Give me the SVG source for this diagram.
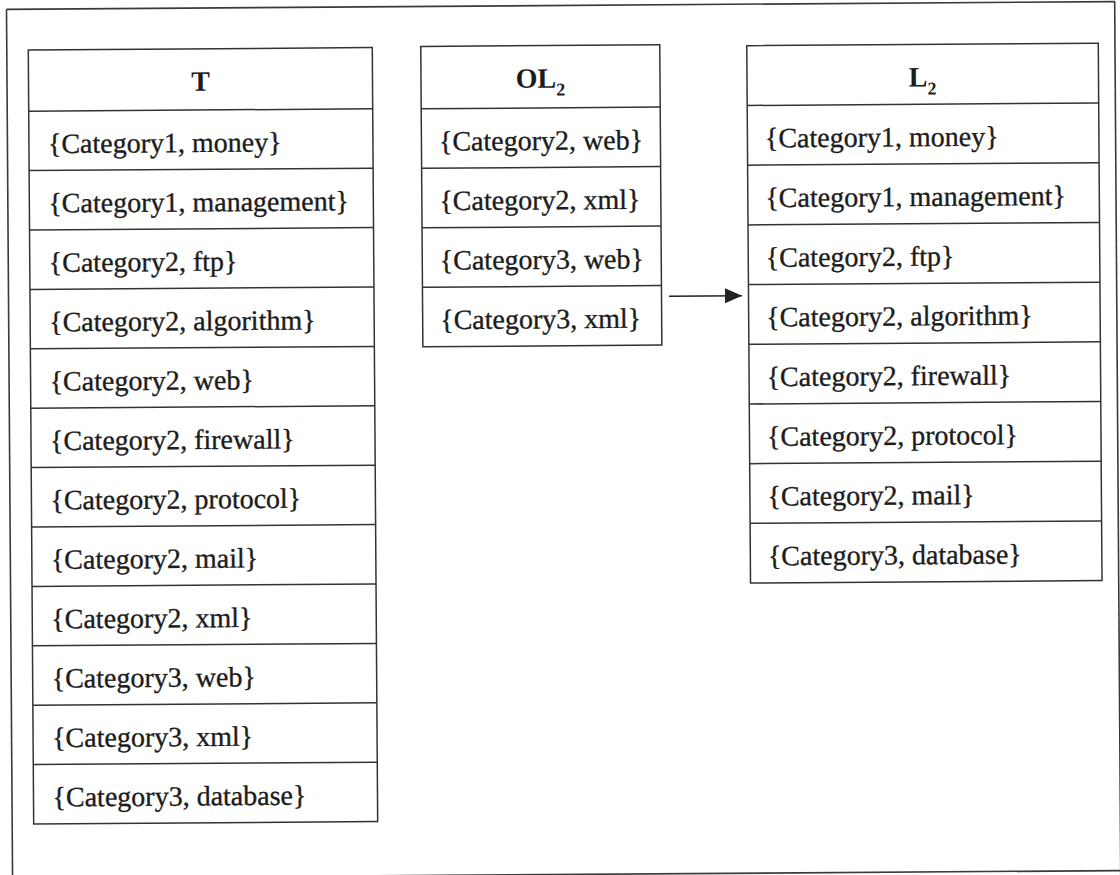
<svg xmlns="http://www.w3.org/2000/svg" width="1120" height="875" viewBox="0 0 1120 875">
  <style>
    .frame { fill: none; stroke: #3a3a3a; stroke-width: 1.6; }
    .box { fill: #ffffff; stroke: #333333; stroke-width: 1.5; }
    .sep { stroke: #333333; stroke-width: 1.5; }
    .cell { font-family: "Liberation Serif", "Times New Roman", serif; font-size: 28px; fill: #1c1c1c; stroke: #1c1c1c; stroke-width: 0.35; }
    .head { font-family: "Liberation Serif", "Times New Roman", serif; font-size: 28px; font-weight: bold; fill: #1c1c1c; text-anchor: middle; }
    .sub { font-size: 18px; }
    .link { stroke: #222222; stroke-width: 1.6; fill: none; }
  </style>
  <defs>
    <marker id="arrowhead" markerWidth="17" markerHeight="16" refX="17" refY="8" orient="auto" markerUnits="userSpaceOnUse">
      <path d="M0,0.5 L17,8 L0,15.5 Z" fill="#222222"/>
    </marker>
  </defs>
  <rect width="1120" height="875" fill="#ffffff"/>
  <!-- whole sheet sits at a slight counter-clockwise tilt -->
  <g transform="rotate(-0.4 560 437.5)">
    <!-- outer frame -->
    <g id="frame">
      <line class="frame" x1="9.5" y1="5.5" x2="1118" y2="5.5"/>
      <line class="frame" x1="9.5" y1="5.5" x2="9.5" y2="880"/>
      <line class="frame" x1="1117.7" y1="5.5" x2="1117.7" y2="880"/>
      <line class="frame" x1="9.5" y1="874.5" x2="1118" y2="874.5" stroke-width="2"/>
    </g>

    <!-- table T -->
    <g id="node-T">
      <rect class="box" x="31" y="46.3" width="344" height="774"/>
      <line class="sep" x1="31" y1="107.5" x2="375" y2="107.5"/>
      <line class="sep" x1="31" y1="166.9" x2="375" y2="166.9"/>
      <line class="sep" x1="31" y1="226.3" x2="375" y2="226.3"/>
      <line class="sep" x1="31" y1="285.7" x2="375" y2="285.7"/>
      <line class="sep" x1="31" y1="345.1" x2="375" y2="345.1"/>
      <line class="sep" x1="31" y1="404.5" x2="375" y2="404.5"/>
      <line class="sep" x1="31" y1="463.9" x2="375" y2="463.9"/>
      <line class="sep" x1="31" y1="523.3" x2="375" y2="523.3"/>
      <line class="sep" x1="31" y1="582.7" x2="375" y2="582.7"/>
      <line class="sep" x1="31" y1="642.1" x2="375" y2="642.1"/>
      <line class="sep" x1="31" y1="701.5" x2="375" y2="701.5"/>
      <line class="sep" x1="31" y1="760.9" x2="375" y2="760.9"/>
      <text class="head" x="203" y="88.3">T</text>
      <text class="cell" x="50" y="149.5">{Category1, money}</text>
      <text class="cell" x="50" y="208.9">{Category1, management}</text>
      <text class="cell" x="50" y="268.3">{Category2, ftp}</text>
      <text class="cell" x="50" y="327.7">{Category2, algorithm}</text>
      <text class="cell" x="50" y="387.1">{Category2, web}</text>
      <text class="cell" x="50" y="446.5">{Category2, firewall}</text>
      <text class="cell" x="50" y="505.9">{Category2, protocol}</text>
      <text class="cell" x="50" y="565.3">{Category2, mail}</text>
      <text class="cell" x="50" y="624.7">{Category2, xml}</text>
      <text class="cell" x="50" y="684.1">{Category3, web}</text>
      <text class="cell" x="50" y="743.5">{Category3, xml}</text>
      <text class="cell" x="50" y="802.9">{Category3, database}</text>
    </g>

    <!-- table OL2 -->
    <g id="node-OL2">
      <rect class="box" x="423.5" y="45.5" width="239" height="300.3"/>
      <line class="sep" x1="423.5" y1="107.8" x2="662.5" y2="107.8"/>
      <line class="sep" x1="423.5" y1="167.3" x2="662.5" y2="167.3"/>
      <line class="sep" x1="423.5" y1="226.8" x2="662.5" y2="226.8"/>
      <line class="sep" x1="423.5" y1="286.3" x2="662.5" y2="286.3"/>
      <text class="head" x="543" y="87.5">OL<tspan class="sub" dy="8">2</tspan></text>
      <text class="cell" x="441" y="149.8">{Category2, web}</text>
      <text class="cell" x="441" y="209.3">{Category2, xml}</text>
      <text class="cell" x="441" y="268.8">{Category3, web}</text>
      <text class="cell" x="441" y="328.3">{Category3, xml}</text>
    </g>

    <!-- table L2 -->
    <g id="node-L2">
      <rect class="box" x="749.5" y="47" width="351.5" height="537.4"/>
      <line class="sep" x1="749.5" y1="106.8" x2="1101" y2="106.8"/>
      <line class="sep" x1="749.5" y1="166.5" x2="1101" y2="166.5"/>
      <line class="sep" x1="749.5" y1="226.2" x2="1101" y2="226.2"/>
      <line class="sep" x1="749.5" y1="285.9" x2="1101" y2="285.9"/>
      <line class="sep" x1="749.5" y1="345.6" x2="1101" y2="345.6"/>
      <line class="sep" x1="749.5" y1="405.3" x2="1101" y2="405.3"/>
      <line class="sep" x1="749.5" y1="465" x2="1101" y2="465"/>
      <line class="sep" x1="749.5" y1="524.7" x2="1101" y2="524.7"/>
      <text class="head" x="925" y="89">L<tspan class="sub" dy="8">2</tspan></text>
      <text class="cell" x="767" y="148.8">{Category1, money}</text>
      <text class="cell" x="767" y="208.5">{Category1, management}</text>
      <text class="cell" x="767" y="268.2">{Category2, ftp}</text>
      <text class="cell" x="767" y="327.9">{Category2, algorithm}</text>
      <text class="cell" x="767" y="387.6">{Category2, firewall}</text>
      <text class="cell" x="767" y="447.3">{Category2, protocol}</text>
      <text class="cell" x="767" y="507">{Category2, mail}</text>
      <text class="cell" x="767" y="566.7">{Category3, database}</text>
    </g>

    <!-- connectors -->
    <g id="connectors">
      <line class="link" x1="670" y1="297" x2="743" y2="297" marker-end="url(#arrowhead)"/>
    </g>
  </g>
</svg>
